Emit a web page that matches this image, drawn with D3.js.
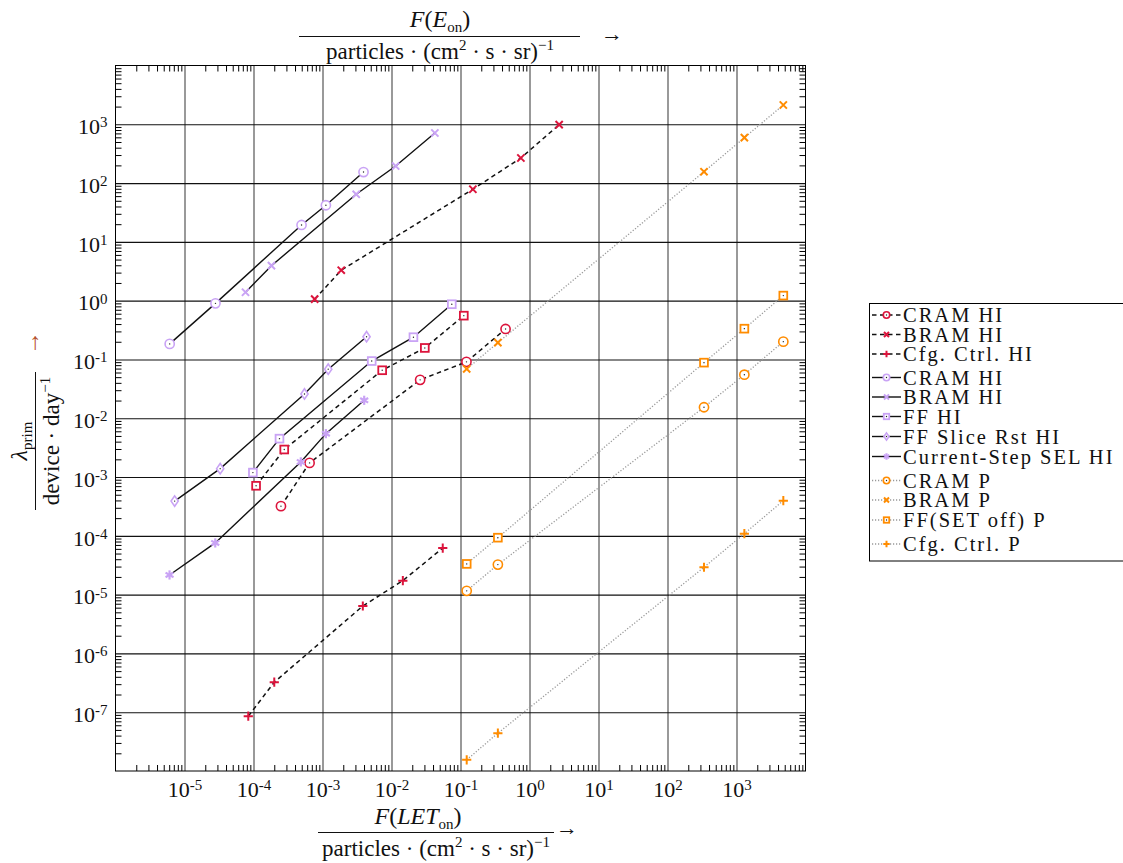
<!DOCTYPE html>
<html>
<head>
<meta charset="utf-8">
<script src="https://cdn.jsdelivr.net/npm/d3@7"></script>
<style>
  body { margin: 0; background: #fff; }
  text { font-family: "Liberation Serif", "DejaVu Serif", serif; }
</style>
</head>
<body>
<svg id="chart" width="1123" height="863"></svg>
<script>
// heavy ion, dashed (red)
var cramHiX = [2.5e-4, 6.5e-4, 0.026, 0.122, 0.45];
var cramHiY = [3.2e-4, 1.74e-3, 0.045, 0.091, 0.33];
var bramHiX = [7.7e-4, 1.87e-3, 0.151, 0.75, 2.69];
var bramHiY = [1.06, 3.3, 78.5, 267, 985];
var cfgHiX = [8.4e-5, 2.0e-4, 3.84e-3, 0.0146, 0.0553];
var cfgHiY = [8.55e-8, 3.24e-7, 6.4e-6, 1.73e-5, 6.2e-5];
var ffHiRedX = [1.09e-4, 2.79e-4, 7.33e-3, 0.0304, 0.1117];
var ffHiRedY = [7.1e-4, 2.94e-3, 0.0655, 0.157, 0.556];

// heavy ion, solid (lavender)
var cramHi2X = [6.1e-6, 2.81e-5, 4.97e-4, 1.12e-3, 3.93e-3];
var cramHi2Y = [0.184, 0.90, 19.4, 42, 154];
var bramHi2X = [7.66e-5, 1.82e-4, 3.08e-3, 0.0115, 0.0425];
var bramHi2Y = [1.39, 3.94, 64.5, 195, 711];
var ffHiX = [9.8e-5, 2.38e-4, 5.17e-3, 0.0208, 0.0748];
var ffHiY = [1.19e-3, 4.5e-3, 0.094, 0.239, 0.87];
var ffSliceX = [7.2e-6, 3.29e-5, 5.48e-4, 1.21e-3, 4.35e-3];
var ffSliceY = [3.9e-4, 1.39e-3, 0.0259, 0.0684, 0.244];
var selX = [6.07e-6, 2.79e-5, 4.85e-4, 1.12e-3, 4.02e-3];
var selY = [2.16e-5, 7.57e-5, 1.81e-3, 5.47e-3, 0.0202];

// protons, dotted (orange)
var protonX = [0.123, 0.348, 338, 1300, 4770];
var cramPY = [1.16e-5, 3.24e-5, 0.0154, 0.0551, 0.201];
var bramPY = [0.0689, 0.193, 156, 592, 2130];
var ffPY = [3.33e-5, 9.3e-5, 0.0883, 0.334, 1.22];
var cfgPY = [1.55e-8, 4.4e-8, 2.92e-5, 1.09e-4, 3.97e-4];

var xLabelTicks = [1e-5, 1e-4, 1e-3, 1e-2, 1e-1, 1e0, 1e1, 1e2, 1e3];
var yLabelTicks = [1e-7, 1e-6, 1e-5, 1e-4, 1e-3, 1e-2, 1e-1, 1e0, 1e1, 1e2, 1e3];

var red = "#dc143c", lav = "#c9a3f5", orange = "#ff8c00";

var series = [
  {name: "CRAM HI", x: cramHiX, y: cramHiY, color: red, style: "dashed", marker: "circle"},
  {name: "BRAM HI", x: bramHiX, y: bramHiY, color: red, style: "dashed", marker: "x"},
  {name: "Cfg. Ctrl. HI", x: cfgHiX, y: cfgHiY, color: red, style: "dashed", marker: "plus"},
  {name: null, x: ffHiRedX, y: ffHiRedY, color: red, style: "dashed", marker: "square"},
  {name: "CRAM HI", x: cramHi2X, y: cramHi2Y, color: lav, style: "solid", marker: "circle"},
  {name: "BRAM HI", x: bramHi2X, y: bramHi2Y, color: lav, style: "solid", marker: "x"},
  {name: "FF HI", x: ffHiX, y: ffHiY, color: lav, style: "solid", marker: "square"},
  {name: "FF Slice Rst HI", x: ffSliceX, y: ffSliceY, color: lav, style: "solid", marker: "diamond"},
  {name: "Current-Step SEL HI", x: selX, y: selY, color: lav, style: "solid", marker: "asterisk"},
  {name: "CRAM P", x: protonX, y: cramPY, color: orange, style: "dotted", marker: "circle"},
  {name: "BRAM P", x: protonX, y: bramPY, color: orange, style: "dotted", marker: "x"},
  {name: "FF(SET off) P", x: protonX, y: ffPY, color: orange, style: "dotted", marker: "square"},
  {name: "Cfg. Ctrl. P", x: protonX, y: cfgPY, color: orange, style: "dotted", marker: "plus"}
];

var svg = d3.select("#chart"),
  margin = {top: 65.5, left: 115.5},
  width = 690,
  height = 705.5,
  g = svg.append("g").attr("transform", "translate(" + margin.left + "," + margin.top + ")");

svg.insert("rect", ":first-child").attr("width", 1123).attr("height", 863).attr("fill", "#fff");

var x = d3.scaleLog().domain([1e-6, 1e4]).range([0, width]);
var y = d3.scaleLog().domain([1e-8, 1e4]).range([height, 0]);

var xMinor = d3.range(-6, 4).flatMap(function(e) {
  return d3.range(2, 10).map(function(k) { return k * Math.pow(10, e); });
});
var yMinor = d3.range(-8, 4).flatMap(function(e) {
  return d3.range(2, 10).map(function(k) { return k * Math.pow(10, e); });
});
var xMajor = d3.range(-5, 4).map(function(e) { return Math.pow(10, e); });
var yMajor = d3.range(-7, 4).map(function(e) { return Math.pow(10, e); });

function clean(sel) { sel.select(".domain").remove(); }

// grid
g.append("g")
  .attr("class", "grid")
  .attr("transform", "translate(0," + height + ")")
  .call(d3.axisBottom(x).tickValues(xMajor).tickSize(-height).tickFormat(""))
  .call(clean)
  .selectAll("line").attr("stroke", "#555").attr("stroke-width", 1.2);

g.append("g")
  .attr("class", "grid")
  .call(d3.axisLeft(y).tickValues(yMajor).tickSize(-width).tickFormat(""))
  .call(clean)
  .selectAll("line").attr("stroke", "#111").attr("stroke-width", 1.1);

// minor ticks on all four sides
g.append("g").attr("transform", "translate(0," + height + ")")
  .call(d3.axisBottom(x).tickValues(xMinor).tickSize(-6).tickFormat("")).call(clean);
g.append("g")
  .call(d3.axisTop(x).tickValues(xMinor).tickSize(-6).tickFormat("")).call(clean);
g.append("g")
  .call(d3.axisLeft(y).tickValues(yMinor).tickSize(-6).tickFormat("")).call(clean);
g.append("g").attr("transform", "translate(" + width + ",0)")
  .call(d3.axisRight(y).tickValues(yMinor).tickSize(-6).tickFormat("")).call(clean);

g.append("rect")
  .attr("width", width).attr("height", height)
  .attr("fill", "none").attr("stroke", "#000").attr("stroke-width", 1);

// tick labels with superscript exponent
function powerLabels(sel) {
  sel.attr("font-size", 22).attr("font-family", null);
  sel.selectAll(".tick text").text(null).each(function(d) {
    var t = d3.select(this);
    t.append("tspan").text("10");
    t.append("tspan").attr("dy", "-0.45em").attr("font-size", "15px")
      .text(Math.round(Math.log10(d)));
  });
}

g.append("g")
  .attr("transform", "translate(0," + height + ")")
  .call(d3.axisBottom(x).tickValues(xLabelTicks).tickSize(0))
  .call(clean)
  .call(powerLabels)
  .selectAll("text").attr("y", 26).attr("dy", 0).attr("fill", "#111");

g.append("g")
  .call(d3.axisLeft(y).tickValues(yLabelTicks).tickSize(0))
  .call(clean)
  .call(powerLabels)
  .selectAll("text").attr("x", -8).attr("dy", "0.42em").attr("fill", "#111");

// lines
var line = d3.line()
  .x(function(d) { return x(d[0]); })
  .y(function(d) { return y(d[1]); });

function strokeStyle(sel, style) {
  if (style == "dashed") {
    sel.attr("stroke", "#111").attr("stroke-width", 1.5).attr("stroke-dasharray", "4.5,3.5");
  } else if (style == "dotted") {
    sel.attr("stroke", "#999").attr("stroke-width", 1.3).attr("stroke-dasharray", "1.2,1.8");
  } else {
    sel.attr("stroke", "#111").attr("stroke-width", 1.4);
  }
}

series.forEach(function(s) {
  var pts = s.x.map(function(v, i) { return [v, s.y[i]]; });
  g.append("path")
    .datum(pts)
    .attr("fill", "none")
    .attr("d", line)
    .call(strokeStyle, s.style);
});

// markers
function drawMarker(sel, type, color, k) {
  k = k || 1;
  if (type == "circle") {
    sel.append("circle").attr("r", 4.6 * k).attr("fill", "#fff")
      .attr("stroke", color).attr("stroke-width", 1.6);
    sel.append("circle").attr("r", 0.7).attr("fill", "#222");
  } else if (type == "square") {
    var a = 3.9 * k;
    sel.append("rect").attr("x", -a).attr("y", -a).attr("width", 2 * a).attr("height", 2 * a)
      .attr("fill", "#fff").attr("stroke", color).attr("stroke-width", 1.8);
    sel.append("circle").attr("r", 0.7).attr("fill", "#222");
  } else if (type == "diamond") {
    sel.append("path").attr("d", "M0," + (-5.2 * k) + "L" + (3.6 * k) + ",0L0," + (5.2 * k) + "L" + (-3.6 * k) + ",0Z")
      .attr("fill", "#fff").attr("stroke", color).attr("stroke-width", 1.6);
    sel.append("circle").attr("r", 0.7).attr("fill", "#222");
  } else if (type == "x") {
    var b = 3.6 * k;
    sel.append("path").attr("d", "M" + (-b) + "," + (-b) + "L" + b + "," + b + "M" + (-b) + "," + b + "L" + b + "," + (-b))
      .attr("stroke", color).attr("stroke-width", 2).attr("fill", "none");
  } else if (type == "plus") {
    var c = 4.6 * k;
    sel.append("path").attr("d", "M" + (-c) + ",0H" + c + "M0," + (-c) + "V" + c)
      .attr("stroke", color).attr("stroke-width", 2).attr("fill", "none");
  } else if (type == "asterisk") {
    var r = 4.6 * k;
    [90, 30, 150].forEach(function(ang) {
      var dx = r * Math.cos(ang * Math.PI / 180), dy = r * Math.sin(ang * Math.PI / 180);
      sel.append("line").attr("x1", -dx).attr("y1", -dy).attr("x2", dx).attr("y2", dy)
        .attr("stroke", color).attr("stroke-width", 2.2);
    });
  }
}

series.forEach(function(s) {
  g.append("g").selectAll("g")
    .data(s.x.map(function(v, i) { return [v, s.y[i]]; }))
    .enter().append("g")
    .attr("transform", function(d) { return "translate(" + x(d[0]) + "," + y(d[1]) + ")"; })
    .each(function() { drawMarker(d3.select(this), s.marker, s.color); });
});

// legend
var legendRows = [315, 334.5, 354, 377.5, 397, 416.5, 436.5, 456.5, 480.5, 500, 520, 544];
var legendSeries = series.filter(function(s) { return s.name; });

svg.append("rect")
  .attr("x", 869.5).attr("y", 303.5).attr("width", 300).attr("height", 257.5)
  .attr("fill", "#fff").attr("stroke", "#000").attr("stroke-width", 1);

var legend = svg.append("g")
  .selectAll("g")
  .data(legendSeries)
  .enter().append("g")
  .attr("transform", function(d, i) { return "translate(0," + legendRows[i] + ")"; });

legend.append("line")
  .attr("x1", 872).attr("x2", 901)
  .each(function(d) { d3.select(this).call(strokeStyle, d.style); });

legend.append("g")
  .attr("transform", "translate(886.5,0)")
  .each(function(d) { drawMarker(d3.select(this), d.marker, d.color, 0.7); });

legend.append("text")
  .attr("x", 903).attr("y", 7)
  .attr("font-size", 20.5).attr("letter-spacing", 2).attr("fill", "#111")
  .text(function(d) { return d.name; });

// axis titles
function fracText(parent, cx, cy, parts, size) {
  var t = parent.append("text").attr("x", cx).attr("y", cy).attr("text-anchor", "middle")
    .attr("font-size", size || 22).attr("fill", "#111");
  parts.forEach(function(p) {
    var s = t.append("tspan").text(p.t);
    if (p.i) s.attr("font-style", "italic");
    if (p.dy) s.attr("dy", p.dy);
    if (p.fs) s.attr("font-size", p.fs);
  });
  return t;
}

var topNum = [{t: "F", i: 1}, {t: "("}, {t: "E", i: 1}, {t: "on", fs: 15, dy: 5}, {t: ")", dy: -5}];
var den = [{t: "particles · (cm"}, {t: "2", fs: 15, dy: -9}, {t: " · s · sr)", dy: 9}, {t: "−1", fs: 15, dy: -9}];

fracText(svg, 440, 27, topNum, 24);
svg.append("line").attr("x1", 299).attr("x2", 580).attr("y1", 36.5).attr("y2", 36.5).attr("stroke", "#111");
fracText(svg, 440, 59, den, 23);
svg.append("text").attr("x", 601).attr("y", 41).attr("font-size", 22).attr("fill", "#111").text("→");

var botNum = [{t: "F", i: 1}, {t: "("}, {t: "LET", i: 1}, {t: "on", fs: 15, dy: 5}, {t: ")", dy: -5}];
fracText(svg, 418, 824, botNum, 24);
svg.append("line").attr("x1", 318).attr("x2", 554).attr("y1", 832.5).attr("y2", 832.5).attr("stroke", "#111");
fracText(svg, 436, 856, den, 23);
svg.append("text").attr("x", 556).attr("y", 835).attr("font-size", 22).attr("fill", "#111").text("→");

var ylab = svg.append("g").attr("transform", "translate(35.5,441) rotate(-90)");
var yNum = [{t: "λ", i: 1}, {t: "prim", fs: 15, dy: 5}];
fracText(ylab, 0, -9, yNum, 24);
ylab.append("line").attr("x1", -69).attr("x2", 69).attr("stroke", "#111");
var yDen = [{t: "device · day"}, {t: "−1", fs: 15, dy: -9}];
fracText(ylab, 0, 23, yDen, 23);
ylab.append("text").attr("x", 86).attr("y", 3).attr("font-size", 24).attr("fill", "#b5502a").text("→");
</script>
</body>
</html>
